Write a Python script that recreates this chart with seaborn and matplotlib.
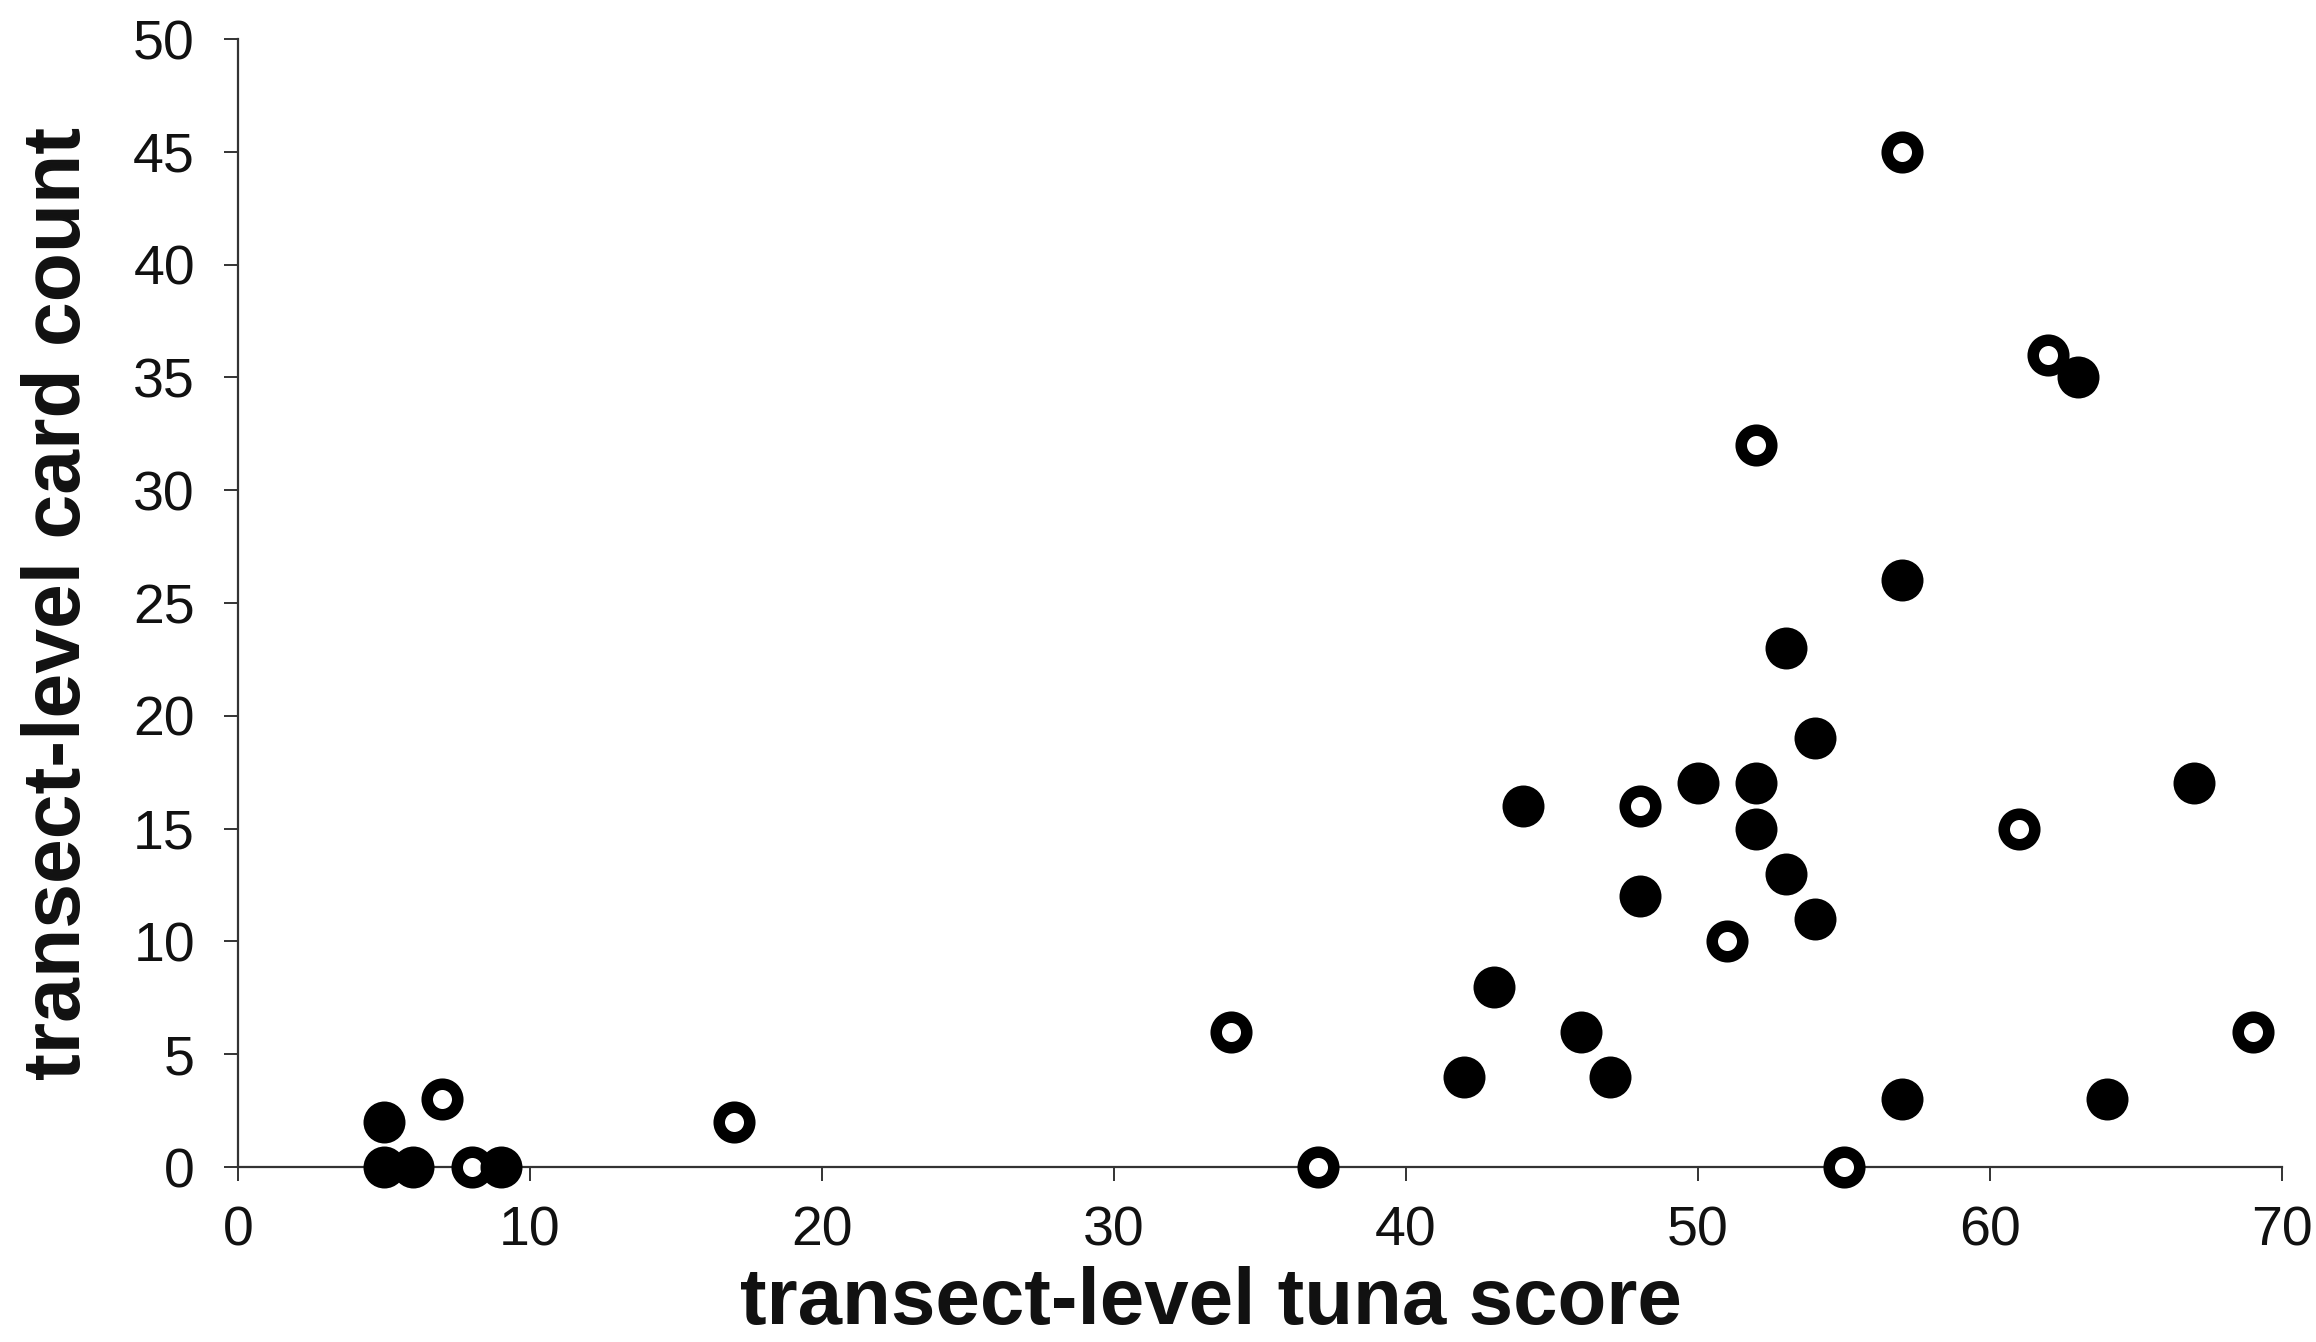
import matplotlib
matplotlib.use("Agg")
import matplotlib.pyplot as plt
import seaborn as sns
import pandas as pd

# Transects with filled markers
filled_score = [5, 5, 6, 9, 42, 43, 44, 46, 47, 48, 50, 52, 52, 53, 53, 54, 54, 57, 57, 63, 64, 67]
filled_count = [2, 0, 0, 0, 4, 8, 16, 6, 4, 12, 17, 17, 15, 23, 13, 19, 11, 26, 3, 35, 3, 17]

# Transects with open markers
open_score = [7, 8, 17, 34, 37, 48, 51, 52, 55, 57, 61, 62, 69]
open_count = [3, 0, 2, 6, 0, 16, 10, 32, 0, 45, 15, 36, 6]

x_ticks = [0, 10, 20, 30, 40, 50, 60, 70]
y_ticks = [0, 5, 10, 15, 20, 25, 30, 35, 40, 45, 50]

df_filled = pd.DataFrame({"score": filled_score, "count": filled_count})
df_open = pd.DataFrame({"score": open_score, "count": open_count})

sns.set_style("ticks")
plt.rcParams["font.family"] = ["Liberation Sans", "DejaVu Sans"]

W, H = 2316, 1342
fig = plt.figure(figsize=(W / 100, H / 100), dpi=100)
ax = fig.add_axes([238 / W, 1 - 1167 / H, (2282 - 238) / W, (1167 - 39) / H])

sns.scatterplot(data=df_open, x="score", y="count", ax=ax, s=484,
                facecolor="white", edgecolor="black", linewidth=8.3, zorder=3)
sns.scatterplot(data=df_filled, x="score", y="count", ax=ax, s=914,
                color="black", edgecolor="black", linewidth=0, zorder=4)
for coll in ax.collections:
    coll.set_clip_on(False)

ax.set_xlim(0, 70)
ax.set_ylim(0, 50)
ax.set_xticks(x_ticks)
ax.set_yticks(y_ticks)
ax.set_xticklabels([str(t) for t in x_ticks])
ax.set_yticklabels([str(t) for t in y_ticks])

sns.despine(ax=ax)
for side in ("left", "bottom"):
    ax.spines[side].set_color("#333333")
    ax.spines[side].set_linewidth(1.6)

ax.tick_params(axis="both", direction="out", length=10, width=1.4,
               color="#333333", labelsize=40, labelcolor="#111111")
ax.tick_params(axis="y", pad=21)
ax.tick_params(axis="x", pad=18)

ax.set_xlabel("transect-level tuna score", fontsize=57.5, fontweight="bold",
              color="#111111", va="baseline")
ax.xaxis.set_label_coords(1211 / W, 18 / H, transform=fig.transFigure)
ax.set_ylabel("transect-level card count", fontsize=58, fontweight="bold",
              color="#111111", labelpad=26)

fig.savefig("out.png", dpi=100, facecolor="white")
